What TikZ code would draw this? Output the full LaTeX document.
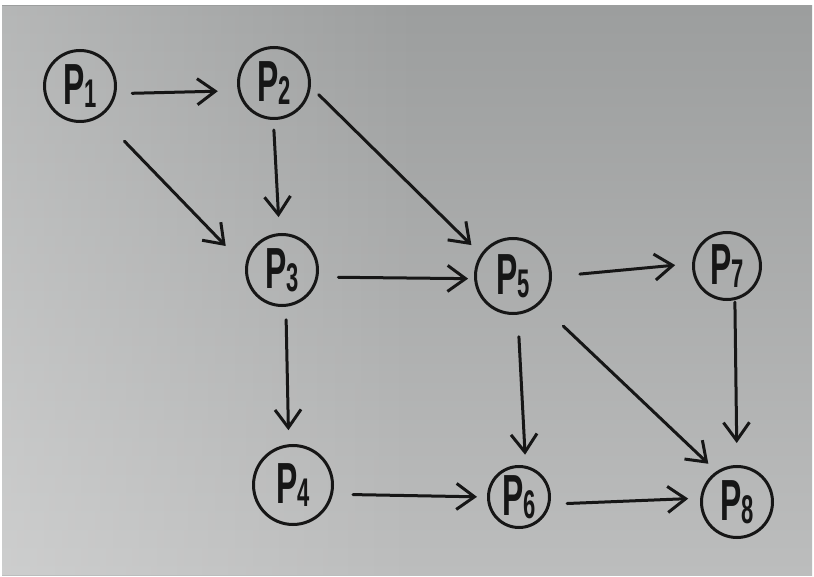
\documentclass[tikz,border=0pt]{standalone}
\usepackage{fontspec}
\usepackage{graphicx}
\setmainfont{Liberation Sans}
\usetikzlibrary{arrows.meta,fadings}

\definecolor{ink}{RGB}{22,22,22}
\definecolor{boardT}{RGB}{156,158,158}
\definecolor{boardB}{RGB}{188,189,189}

\tikzfading[name=leftglow, left color=transparent!0, right color=transparent!100]

\newcommand{\pname}[1]{\scalebox{0.55}[1]{P\raisebox{-3pt}{\fontsize{40}{40}\selectfont #1}}}

\tikzset{
  proc/.style={draw=ink, text=ink, circle, line width=3pt, inner sep=0pt,
    font=\fontsize{58}{58}\selectfont\bfseries},
  flow/.style={draw=ink, line width=3pt, line cap=round,
    -{Straight Barb[length=18pt,width=26pt,line width=3pt]}}
}

\begin{document}
\begin{tikzpicture}[x=1pt,y=-1pt]
    \useasboundingbox (0,0) rectangle (814,577);
    \fill[white] (0,0) rectangle (814,577);

    % board
    \shade[top color=boardT, bottom color=boardB] (2,6) rectangle (812,575);
    \fill[white, opacity=0.26, path fading=leftglow] (2,6) rectangle (420,575);

    % processes
    \foreach \n/\x/\y/\d in {
        1/80/86/71,
        2/274/83/71,
        3/282/270/71,
        4/293/485/79,
        5/513/276/75,
        6/519/497/61,
        7/727/266/67,
        8/737/502/71
        } {
        \node[proc, minimum size=\d pt] (p\n) at (\x,\y) {\pname{\n}};
    }

    % precedences
    \foreach \a/\sa/\b/\eb/\g/\h in {
        1/-12/2/192/16/20,
        1/-56/3/174/34/28,
        2/-91/3/94/10/16,
        2/-6/5/146/11/13,
        3/-11/5/184/20/6,
        3/-84/4/96/13/14,
        5/-1/7/176/28/17,
        5/-83/6/78/22/11,
        5/-46/8/124/32/11,
        7/-77/8/90/2/22,
        4/-13/6/180/20/10,
        6/-13/8/174/17/12
        } {
        \draw[flow, shorten <=\g pt, shorten >=\h pt] (p\a.\sa) -- (p\b.\eb);
    }
\end{tikzpicture}
\end{document}
